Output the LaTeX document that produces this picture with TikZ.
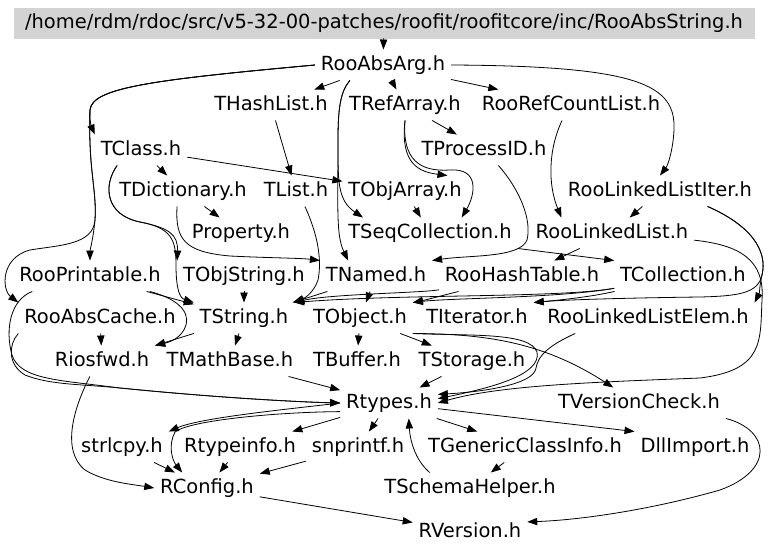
\documentclass[tikz,border=0pt]{standalone}
\usepackage{fontspec}
\setmainfont{DejaVu Sans}
\usetikzlibrary{arrows.meta}
\definecolor{hdrgray}{HTML}{D3D3D3}
\begin{document}
\begin{tikzpicture}[x=0.75pt,y=-0.75pt,
    file/.style = {inner sep=1.5pt,outer xsep=3pt,outer ysep=2.4pt,text height=12pt,text depth=3.4pt,font=\fontsize{14.6}{17}\selectfont},
    hdr/.style = {fill=hdrgray,draw=hdrgray,minimum width=555pt,minimum height=22.5pt,inner sep=0pt,font=\fontsize{14.6}{17}\selectfont},
    dep/.style = {-{Triangle[length=7.5pt,width=5.5pt]},line width=0.6pt}]
\useasboundingbox (0,0) rectangle (768,553);
\node[hdr] (top) at (384,23) {/home/rdm/rdoc/src/v5-32-00-patches/roofit/roofitcore/inc/RooAbsString.h};
\node[file] (abs) at (383,65) {RooAbsArg.h};
\foreach \n/\x/\txt in {hash/271/THashList.h, refarr/405/TRefArray.h, refcnt/571/RooRefCountList.h}
    \node[file] (\n) at (\x,105) {\txt};
\foreach \n/\x/\txt in {tclass/141/TClass.h, procid/484/TProcessID.h}
    \node[file] (\n) at (\x,150) {\txt};
\foreach \n/\x/\txt in {dict/183/TDictionary.h, tlist/296/TList.h, objarr/405/TObjArray.h, lliter/660/RooLinkedListIter.h}
    \node[file] (\n) at (\x,191) {\txt};
\foreach \n/\x/\txt in {prop/241/Property.h, seqcol/430/TSeqCollection.h, llist/612/RooLinkedList.h}
    \node[file] (\n) at (\x,233) {\txt};
\foreach \n/\x/\txt in {printable/90/RooPrintable.h, objstr/244/TObjString.h, named/376/TNamed.h, hashtab/522/RooHashTable.h, coll/683/TCollection.h}
    \node[file] (\n) at (\x,276) {\txt};
\foreach \n/\x/\txt in {cache/100/RooAbsCache.h, tstring/244/TString.h, tobject/360/TObject.h, iter/477/TIterator.h, llelem/648/RooLinkedListElem.h}
    \node[file] (\n) at (\x,318) {\txt};
\foreach \n/\x/\txt in {iosfwd/102/Riosfwd.h, mathb/230/TMathBase.h, buffer/357/TBuffer.h, storage/472/TStorage.h}
    \node[file] (\n) at (\x,361) {\txt};
\foreach \n/\x/\txt in {rtypes/389/Rtypes.h, vcheck/639/TVersionCheck.h}
    \node[file] (\n) at (\x,403) {\txt};
\foreach \n/\x/\txt in {strl/122/strlcpy.h, rtinfo/240/Rtypeinfo.h, snpr/358/snprintf.h, gci/525/TGenericClassInfo.h, dll/695/DllImport.h}
    \node[file] (\n) at (\x,447) {\txt};
\foreach \n/\x/\txt in {rconf/207/RConfig.h, schema/470/TSchemaHelper.h}
    \node[file] (\n) at (\x,488) {\txt};
\node[file] (rvers) at (470,532) {RVersion.h};
\foreach \a/\b in {top/abs, abs/hash, abs/refarr, abs/refcnt, refarr/procid, tclass/dict, tclass/objarr, hash/tlist, objarr/seqcol, dict/prop, lliter/llist, llist/hashtab, printable/tstring, objstr/tstring, named/tstring, named/tobject, cache/iosfwd, tobject/storage, tobject/buffer, tstring/mathb, mathb/rtypes, storage/rtypes, rtypes/rtinfo, rtypes/snpr, rtypes/gci, gci/schema, strl/rconf, rtinfo/rconf, snpr/rconf, rconf/rvers}
    \draw[dep] (\a) -- (\b);
\draw[dep] (seqcol.south east) -- (coll.north west);
\draw[dep] (tstring.south west) -- (iosfwd.north east);
\draw[dep] (rtypes) -- (dll.north west);
\draw[dep] (abs.west) .. controls (150,80) and (92,88) .. (90,110) .. controls (89,120) and (92,128) .. (tclass.north west);
\draw[dep] (abs.west) .. controls (150,80) and (92,88) .. (90,110) .. controls (88,170) and (97,190) .. (95,220) .. controls (93,240) and (90,250) .. (printable.north);
\draw[dep] (abs.west) .. controls (150,80) and (92,88) .. (90,110) .. controls (88,170) and (97,190) .. (95,220) .. controls (93,245) and (60,245) .. (30,250) .. controls (0,258) and (2,290) .. (cache.north west);
\draw[dep] (abs.east) .. controls (640,66) and (676,85) .. (674,130) .. controls (673,150) and (668,165) .. (lliter.north);
\draw[dep] (abs.205) .. controls (340,92) and (338,110) .. (338,140) .. controls (338,210) and (336,235) .. (named.151);
\draw[dep] (abs.205) .. controls (340,92) and (338,110) .. (338,140) .. controls (338,180) and (337,200) .. (seqcol.167);
\draw[dep] (refarr.south) .. controls (400,165) and (420,172) .. (objarr.20);
\draw[dep] (refarr.south) .. controls (402,160) and (420,172) .. (450,170) .. controls (480,168) and (475,195) .. (seqcol.26);
\draw[dep] (procid.-47) .. controls (520,190) and (532,220) .. (527,240) .. controls (520,258) and (470,255) .. (named.north east);
\draw[dep] (tclass.213) .. controls (103,185) and (105,215) .. (140,222) .. controls (170,228) and (178,235) .. (objstr.north west);
\draw[dep] (tclass.213) .. controls (103,185) and (105,215) .. (140,222) .. controls (172,228) and (176,240) .. (176,265) .. controls (176,290) and (180,298) .. (tstring.north west);
\draw[dep] (dict.249) .. controls (175,240) and (185,252) .. (230,256) .. controls (270,258) and (300,258) .. (named.north west);
\draw[dep] (tlist.-60) .. controls (318,235) and (322,260) .. (318,280) .. controls (314,292) and (305,298) .. (tstring.north east);
\draw[dep] (printable) .. controls (175,298) and (190,310) .. (186,325) .. controls (182,338) and (170,342) .. (iosfwd.north east);
\draw[dep] (printable.195) .. controls (10,300) and (5,330) .. (12,355) .. controls (20,380) and (60,380) .. (120,388) .. controls (220,398) and (300,402) .. (rtypes.west);
\draw[dep] (cache.south west) .. controls (8,345) and (8,365) .. (25,375) .. controls (50,385) and (80,384) .. (120,388) .. controls (220,398) and (300,402) .. (rtypes.west);
\draw[dep] (coll) .. controls (560,298) and (400,294) .. (tstring.north east);
\draw[dep] (coll) .. controls (560,298) and (450,298) .. (tobject.north east);
\draw[dep] (coll) .. controls (590,297) and (560,300) .. (iter.north east);
\draw[dep] (hashtab) .. controls (420,293) and (330,294) .. (tstring.north east);
\draw[dep] (hashtab) .. controls (440,296) and (430,299) .. (tobject.north east);
\draw[dep] (refcnt.240) .. controls (548,150) and (548,185) .. (llist.163);
\draw[dep] (lliter.-18) .. controls (750,225) and (768,250) .. (762,275) .. controls (759,288) and (760,292) .. (llelem.north east);
\draw[dep] (lliter.-18) .. controls (750,225) and (768,250) .. (762,275) .. controls (758,293) and (740,296) .. (700,297) .. controls (620,298) and (560,300) .. (iter.north east);
\draw[dep] (llist.-5) .. controls (740,245) and (765,260) .. (762,300) .. controls (760,340) and (765,370) .. (700,378) .. controls (600,382) and (500,385) .. (rtypes.east);
\draw[dep] (llelem.192) .. controls (550,345) and (538,355) .. (536,368) .. controls (534,385) and (480,392) .. (rtypes.10);
\draw[dep] (tobject.south east) .. controls (470,336) and (530,332) .. (537,352) .. controls (542,375) and (490,388) .. (rtypes.5);
\draw[dep] (tobject.south east) .. controls (480,334) and (540,340) .. (vcheck.149);
\draw[dep] (iosfwd.232) .. controls (75,405) and (60,450) .. (85,470) .. controls (105,482) and (130,484) .. (rconf.west);
\draw[dep] (rtypes.west) .. controls (280,410) and (200,418) .. (strl.north east);
\draw[dep] (rtypes.190) .. controls (280,412) and (190,420) .. (175,432) .. controls (168,445) and (172,460) .. (rconf.148);
\draw[dep] (schema.159) .. controls (415,460) and (410,440) .. (rtypes.-38);
\draw[dep] (vcheck.south east) .. controls (770,430) and (775,470) .. (720,490) .. controls (650,510) and (580,520) .. (rvers.10);
\end{tikzpicture}
\end{document}
